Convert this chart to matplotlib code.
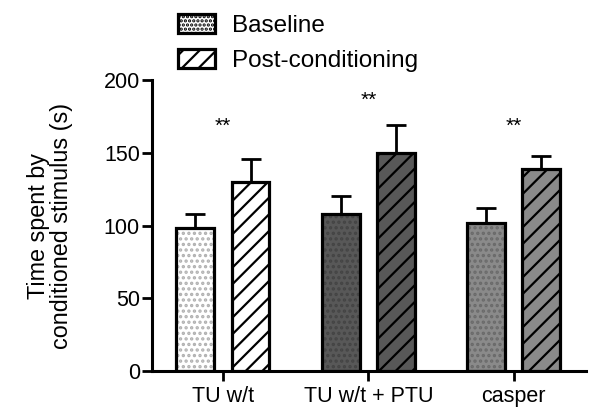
import numpy as np
import matplotlib.pyplot as plt
from matplotlib.patches import Patch

plt.rcParams['font.family'] = ['Liberation Sans', 'DejaVu Sans']
plt.rcParams['hatch.linewidth'] = 1.6

# strains / conditions
groups = ["TU w/t", "TU w/t + PTU", "casper"]
baseline = [98, 108, 102]
baseline_err = [10, 12, 10]
post = [130, 150, 139]
post_err = [16, 19, 9]
stars = ["**", "**", "**"]
star_y = [168, 186, 168]

fills = ["white", "#585858", "#8a8a8a"]
dot_colors = ["#b0b0b0", "#444444", "#6a6a6a"]

x = np.arange(len(groups))
width = 0.26
off = 0.19

fig = plt.figure(figsize=(6, 4.15), dpi=100)
ax = fig.add_axes([0.253, 0.106, 0.724, 0.701])

for i in range(len(groups)):
    # baseline: dotted fill, dots drawn in a softer colour, then black outline
    ax.bar(x[i] - off, baseline[i], width, color=fills[i], hatch="...",
           edgecolor=dot_colors[i], linewidth=0, zorder=2)
    ax.bar(x[i] - off, baseline[i], width, fill=False, edgecolor="black",
           linewidth=2.3, zorder=3)
    # post-conditioning: striped
    ax.bar(x[i] + off, post[i], width, color=fills[i], hatch="//",
           edgecolor="black", linewidth=2.3, zorder=3)

ax.errorbar(x - off, baseline, yerr=[np.zeros(3), baseline_err], fmt="none",
            ecolor="black", elinewidth=2, capsize=7.5, capthick=2, zorder=1)
ax.errorbar(x + off, post, yerr=[np.zeros(3), post_err], fmt="none",
            ecolor="black", elinewidth=2, capsize=7.5, capthick=2, zorder=1)

for i, s in enumerate(stars):
    ax.text(x[i], star_y[i], s, ha="center", va="center", fontsize=15)

ax.set_xlim(-0.49, 2.5)
ax.set_ylim(0, 200)
ax.set_yticks([0, 50, 100, 150, 200])
ax.set_xticks(x)
ax.set_xticklabels(groups)
ax.tick_params(axis="both", labelsize=15.5, width=2, direction="out")
ax.tick_params(axis="y", length=7.5, pad=1)
ax.tick_params(axis="x", length=7, pad=4)
ax.spines["top"].set_visible(False)
ax.spines["right"].set_visible(False)
ax.spines["left"].set_linewidth(2.2)
ax.spines["bottom"].set_linewidth(2.2)

ax.set_ylabel("Time spent by\nconditioned stimulus (s)", fontsize=16.8,
              linespacing=1.0)
ax.yaxis.set_label_coords(-0.182, 0.5)

handles = [
    Patch(facecolor="white", edgecolor="black", hatch="....", linewidth=2.3),
    Patch(facecolor="white", edgecolor="black", hatch="//", linewidth=2.3),
]
fig.legend(handles, ["Baseline", "Post-conditioning"], loc="upper left",
           bbox_to_anchor=(0.272, 1.002), frameon=False, fontsize=17.5,
           handlelength=1.52, handleheight=0.82, handletextpad=0.7,
           labelspacing=0.52, borderaxespad=0.2)

fig.savefig("out.png", dpi=100)
